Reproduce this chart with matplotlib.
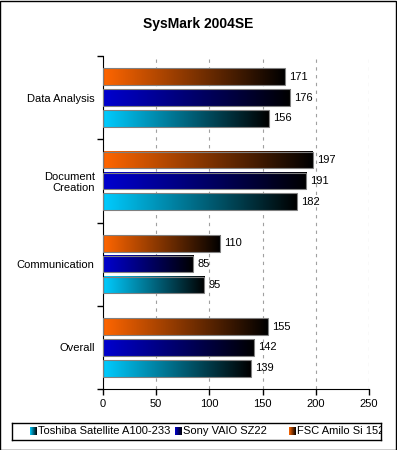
import numpy as np
from matplotlib import pyplot as plt
from matplotlib.patches import Rectangle
from matplotlib.colors import LinearSegmentedColormap

plt.rcParams['font.family'] = ['Liberation Sans', 'DejaVu Sans']

categories = ['Data Analysis', 'Document\nCreation', 'Communication', 'Overall']
series_names = ['Toshiba Satellite A100-233', 'Sony VAIO SZ22', 'FSC Amilo Si 1520']
toshiba = [156, 182, 95, 139]
sony = [176, 191, 85, 142]
fsc = [171, 197, 110, 155]
start_colors = ['#00ccff', '#0000d0', '#ff6600']

values = [toshiba, sony, fsc]

fig = plt.figure(figsize=(3.97, 4.5), dpi=100)
ax = fig.add_axes([103 / 397, 1 - 389 / 450, 266 / 397, 333 / 450])

# gradient from series colour to black, left to right
grad = np.linspace(0, 1, 256).reshape(1, -1)
bar_h = 0.2
step = 0.25
n = len(categories)
for s, (vals, col) in enumerate(zip(values, start_colors)):
    cmap = LinearSegmentedColormap.from_list('g%d' % s, [col, '#000000'])
    for i, v in enumerate(vals):
        yc = (n - 1 - i) + (s - 1) * step
        ax.imshow(grad, cmap=cmap, aspect='auto', extent=(0, v, yc - bar_h / 2, yc + bar_h / 2),
                  zorder=2, interpolation='bilinear')
        ax.add_patch(Rectangle((0, yc - bar_h / 2), v, bar_h, fill=False, edgecolor='#808080',
                               linewidth=0.8, zorder=3))
        ax.text(v + 4, yc, str(v), va='center', ha='left', fontsize=8)

ax.set_xlim(0, 250)
ax.set_ylim(-0.5, n - 0.5)
ax.set_xticks([0, 50, 100, 150, 200, 250])
ax.tick_params(axis='x', labelsize=8, length=4, width=1)
ax.set_yticks(range(n))
ax.set_yticklabels(categories[::-1], fontsize=8, ha='right', multialignment='right')
ax.tick_params(axis='y', which='major', length=0, pad=6)
ax.set_yticks(np.arange(-0.5, n, 1), minor=True)
ax.tick_params(axis='y', which='minor', length=4, width=1)
ax.grid(axis='x', color='#a0a0a0', linestyle=(0, (3, 4)), linewidth=0.8, zorder=0)
ax.set_axisbelow(True)
for side in ['top', 'right']:
    ax.spines[side].set_visible(False)

fig.text(0.5, 1 - 24 / 450, 'SysMark 2004SE', ha='center', va='center', fontsize=10, fontweight='bold')

# legend box, text clipped at its right edge
lax = fig.add_axes([12 / 397, 1 - 440 / 450, 369 / 397, 17 / 450])
lax.set_xticks([])
lax.set_yticks([])
for sp in lax.spines.values():
    sp.set_linewidth(1)
    sp.set_color('black')
leg_x = [30, 175, 289]
for name, col, x in zip(series_names, start_colors, leg_x):
    cmap = LinearSegmentedColormap.from_list('l' + name, [col, '#000000'])
    lax.imshow(grad, cmap=cmap, aspect='auto', extent=(x, x + 7, 0.28, 0.72), zorder=2)
    lax.text(x + 8, 0.5, name, va='center', ha='left', fontsize=8, clip_on=True)
lax.set_xlim(12, 381)
lax.set_ylim(0, 1)

fig.patches.append(Rectangle((0.001, 0.001), 0.997, 0.997, transform=fig.transFigure,
                             fill=False, edgecolor='black', linewidth=1))

fig.savefig('out.png', dpi=100)
